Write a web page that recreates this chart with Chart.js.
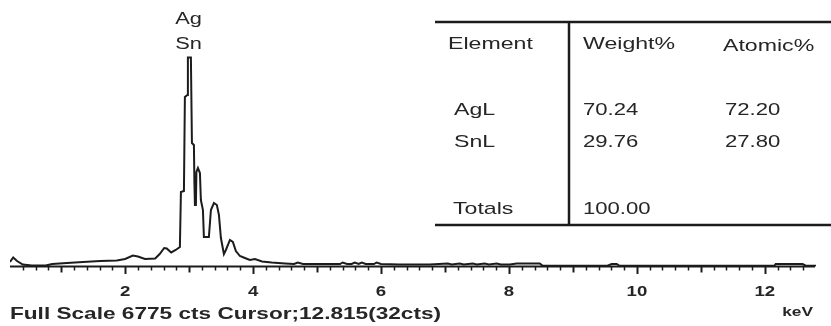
<!DOCTYPE html>
<html>
<head>
<meta charset="utf-8">
<title>EDS spectrum – Ag/Sn</title>
<script src="https://cdn.jsdelivr.net/npm/chart.js@4.4.1/dist/chart.umd.min.js"></script>
<style>
  html, body { margin: 0; padding: 0; background: #fff; }
  canvas { display: block; }
</style>
</head>
<body>
<canvas id="eds" width="831" height="326"></canvas>
<script>
// ---- Spectrum: energy (keV) and counts ----
const energyKeV = [
  0.20, 0.25, 0.31, 0.40, 0.54, 0.76, 0.86, 1.09, 1.34, 1.61, 1.87, 2.00,
  2.12, 2.20, 2.31, 2.47, 2.54, 2.61, 2.65, 2.72, 2.79, 2.856, 2.872, 2.919,
  2.934, 2.973, 2.981, 3.028, 3.044, 3.075, 3.083, 3.091, 3.106, 3.114, 3.138, 3.169,
  3.184, 3.216, 3.231, 3.309, 3.341, 3.388, 3.434, 3.466, 3.497, 3.544, 3.575, 3.638,
  3.684, 3.731, 3.794, 3.872, 3.95, 4.03, 4.14, 4.29, 4.50, 4.64, 4.70, 4.78,
  5.04, 5.36, 5.40, 5.47, 5.54, 5.59, 5.65, 5.70, 5.76, 5.89, 5.93, 6.00,
  6.29, 6.76, 7.044, 7.106, 7.231, 7.294, 7.435, 7.497, 7.622, 7.685, 7.81, 7.872,
  8.013, 8.122, 8.481, 8.528, 9.54, 9.606, 9.684, 9.73, 12.15, 12.17, 12.59, 12.64,
  12.80
];
const counts = [
  119, 238, 145, 53, 26, 26, 66, 92, 119, 145, 158, 198,
  290, 264, 198, 211, 330, 489, 475, 370, 436, 515, 1968, 1994,
  4476, 4529, 5520, 5520, 3262, 3209, 2205, 1624, 1624, 2496, 2601, 2469,
  1756, 1492, 779, 779, 1492, 1677, 1624, 1360, 753, 330, 436, 700,
  647, 409, 277, 224, 172, 198, 132, 106, 79, 66, 106, 66,
  66, 66, 106, 66, 66, 106, 66, 106, 66, 66, 106, 66,
  53, 53, 79, 53, 79, 53, 79, 53, 79, 53, 79, 53,
  53, 79, 79, 20, 20, 66, 66, 20, 20, 66, 66, 20,
  20
];

// ---- Axis ----
const xTickValues = [2, 4, 6, 8, 10, 12];
const fullScaleCounts = 6775;
const cursorKeV = 12.815;
const cursorCounts = 32;
const axisUnit = 'keV';

// ---- Peak identification ----
const peakLabels = ['Ag', 'Sn'];
const peakEnergy = 2.99;

// ---- Quantification table ----
const tableHeader = ['Element', 'Weight%', 'Atomic%'];
const elements = ['AgL', 'SnL'];
const weightPct = [70.24, 29.76];
const atomicPct = [72.20, 27.80];
const totalLabel = 'Totals';
const totalWeight = 100.00;

const INK = '#1c1c1c';
const TEXT = '#262626';
const SX = 1.33; // horizontal stretch of the lettering

function stretchText(ctx, text, x, y, font, sx, align) {
  ctx.save();
  ctx.font = font;
  ctx.textBaseline = 'alphabetic';
  ctx.textAlign = 'left';
  const w = ctx.measureText(text).width * sx;
  const left = align === 'center' ? x - w / 2 : align === 'right' ? x - w : x;
  ctx.translate(left, y);
  ctx.scale(sx, 1);
  ctx.fillStyle = TEXT;
  ctx.fillText(text, 0, 0);
  ctx.restore();
}

function seg(ctx, x1, y1, x2, y2) {
  ctx.beginPath();
  ctx.moveTo(x1, y1);
  ctx.lineTo(x2, y2);
  ctx.stroke();
}

const axisPlugin = {
  id: 'edsAxis',
  beforeDatasetsDraw(chart) {
    const { ctx, scales: { x, y }, chartArea: a } = chart;
    const y0 = y.getPixelForValue(0);
    ctx.save();
    ctx.strokeStyle = INK;
    ctx.lineWidth = 2;
    seg(ctx, a.left, y0, a.right - 1, y0);
    // ticks every 0.2 keV hanging below the axis
    for (let i = 2; i <= 63; i++) {
      const v = i / 5;
      const px = Math.round(x.getPixelForValue(v)) + 0.5;
      const isInt = i % 5 === 0;
      const isEven = isInt && (i / 5) % 2 === 0;
      ctx.lineWidth = isInt ? 2 : 1.5;
      const len = isEven ? 7.5 : isInt ? 6 : 4;
      seg(ctx, px, y0, px, y0 + len);
    }
    ctx.restore();
  },
  afterDraw(chart) {
    const { ctx, scales: { x, y } } = chart;
    const y0 = y.getPixelForValue(0);

    // tick labels
    xTickValues.forEach(v => {
      stretchText(ctx, String(v), x.getPixelForValue(v), y0 + 29.5, 'bold 14px "Liberation Sans", Arial, sans-serif', SX, 'center');
    });
    stretchText(ctx, axisUnit, 813, 316, 'bold 13px "Liberation Sans", Arial, sans-serif', SX, 'right');
    stretchText(ctx,
      'Full Scale ' + fullScaleCounts + ' cts Cursor;' + cursorKeV.toFixed(3) + '(' + cursorCounts + 'cts)',
      10, 319, 'bold 17px "Liberation Sans", Arial, sans-serif', SX, 'left');

    // peak labels
    const pk = x.getPixelForValue(peakEnergy);
    stretchText(ctx, peakLabels[0], pk, 23.5, '16px "Liberation Sans", Arial, sans-serif', 1.36, 'center');
    stretchText(ctx, peakLabels[1], pk, 48.5, '16px "Liberation Sans", Arial, sans-serif', 1.36, 'center');

    // quantification table
    ctx.save();
    ctx.strokeStyle = INK;
    ctx.lineWidth = 2.5;
    seg(ctx, 435, 22, 831, 22);
    seg(ctx, 435, 225, 831, 225);
    seg(ctx, 569, 22, 569, 225);
    ctx.restore();

    const f = '17px "Liberation Sans", Arial, sans-serif';
    const fs = 1.36;
    stretchText(ctx, tableHeader[0], 448, 49, f, fs, 'left');
    stretchText(ctx, tableHeader[1], 583, 49, f, fs, 'left');
    stretchText(ctx, tableHeader[2], 723, 51, f, fs, 'left');
    const rowY = [115, 147];
    elements.forEach((el, i) => {
      stretchText(ctx, el, 454, rowY[i], f, fs, 'left');
      stretchText(ctx, weightPct[i].toFixed(2), 583, rowY[i], f, 1.3, 'left');
      stretchText(ctx, atomicPct[i].toFixed(2), 725, rowY[i], f, 1.3, 'left');
    });
    stretchText(ctx, totalLabel, 453, 214, f, fs, 'left');
    stretchText(ctx, totalWeight.toFixed(2), 583, 214, f, 1.3, 'left');
  }
};

new Chart(document.getElementById('eds'), {
  type: 'line',
  data: {
    datasets: [{
      data: energyKeV.map((e, i) => ({ x: e, y: counts[i] })),
      borderColor: INK,
      borderWidth: 2,
      pointRadius: 0,
      tension: 0,
      fill: false
    }]
  },
  options: {
    responsive: false,
    animation: false,
    events: [],
    layout: { padding: { left: 10, right: 15, top: 10, bottom: 59.5 } },
    plugins: { legend: { display: false }, tooltip: { enabled: false } },
    scales: {
      x: { type: 'linear', min: 0.2, max: 12.8, display: false },
      y: { min: 0, max: fullScaleCounts, display: false }
    }
  },
  plugins: [axisPlugin]
});
</script>
</body>
</html>
